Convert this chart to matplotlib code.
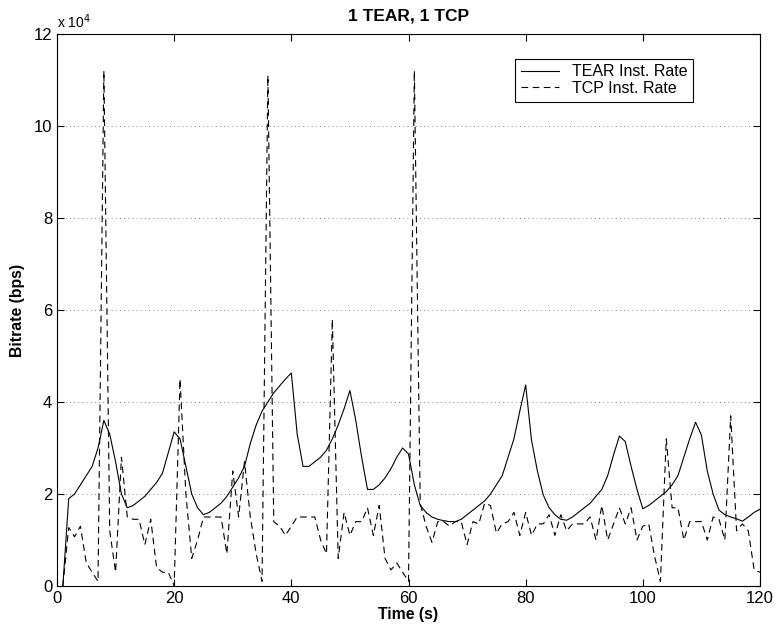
import numpy as np
import matplotlib.pyplot as plt
from matplotlib.ticker import FuncFormatter

plt.rcParams['font.family'] = ['Liberation Sans', 'DejaVu Sans']

# time axis (s)
time_s = list(range(1, 121))

# TEAR instantaneous rate (x 10^4 bps)
tear_rate = [
    0.0, 1.9, 2.0, 2.2, 2.4, 2.6, 3.0, 3.6, 3.3, 2.7,
    2.0, 1.7, 1.75, 1.85, 1.95, 2.1, 2.25, 2.45, 2.9, 3.35,
    3.2, 2.6, 2.0, 1.7, 1.55, 1.6, 1.7, 1.8, 1.95, 2.15,
    2.35, 2.6, 3.1, 3.5, 3.8, 4.0, 4.2, 4.35, 4.5, 4.63,
    3.3, 2.6, 2.6, 2.7, 2.8, 2.95, 3.2, 3.5, 3.85, 4.25,
    3.6, 2.8, 2.1, 2.1, 2.2, 2.35, 2.55, 2.8, 3.0, 2.87,
    2.2, 1.75, 1.6, 1.5, 1.45, 1.42, 1.4, 1.4, 1.45, 1.55,
    1.65, 1.75, 1.85, 2.0, 2.2, 2.4, 2.8, 3.2, 3.8, 4.37,
    3.17, 2.5, 1.98, 1.7, 1.55, 1.45, 1.43, 1.5, 1.6, 1.7,
    1.8, 1.95, 2.1, 2.4, 2.85, 3.26, 3.14, 2.6, 2.1, 1.68,
    1.75, 1.85, 1.95, 2.05, 2.2, 2.4, 2.8, 3.2, 3.56, 3.28,
    2.5, 2.0, 1.65, 1.55, 1.5, 1.46, 1.41, 1.5, 1.6, 1.67,
]

# TCP instantaneous rate (x 10^4 bps)
tcp_rate = [
    0.0, 1.27, 1.07, 1.3, 0.5, 0.3, 0.1, 11.2, 1.2, 0.3,
    2.8, 1.5, 1.45, 1.45, 0.9, 1.45, 0.4, 0.3, 0.3, 0.0,
    4.5, 2.0, 0.6, 1.0, 1.5, 1.5, 1.5, 1.5, 0.7, 2.5,
    1.5, 2.7, 1.5, 0.7, 0.1, 11.1, 1.4, 1.3, 1.1, 1.3,
    1.5, 1.5, 1.5, 1.5, 1.0, 0.7, 5.8, 0.6, 1.6, 1.1,
    1.4, 1.4, 1.7, 1.1, 1.75, 0.6, 0.35, 0.5, 0.3, 0.1,
    11.2, 1.8, 1.3, 0.95, 1.4, 1.4, 1.3, 1.4, 1.4, 0.9,
    1.4, 1.35, 1.8, 1.75, 1.15, 1.35, 1.4, 1.6, 1.1, 1.6,
    1.1, 1.35, 1.35, 1.55, 1.1, 1.55, 1.2, 1.35, 1.35, 1.35,
    1.5, 1.0, 1.75, 1.0, 1.35, 1.7, 1.35, 1.7, 1.0, 1.3,
    1.35, 0.65, 0.1, 3.2, 1.7, 1.7, 1.0, 1.4, 1.4, 1.4,
    1.0, 1.5, 1.45, 1.0, 3.7, 1.2, 1.35, 1.2, 0.35, 0.3,
]

scale = 1e4
tear_bps = np.array(tear_rate) * scale
tcp_bps = np.array(tcp_rate) * scale

fig = plt.figure(figsize=(7.77, 6.32), dpi=100)
ax = fig.add_axes([57 / 777, 46 / 632, 703 / 777, 552 / 632])

ax.plot(time_s, tear_bps, color='black', linewidth=0.8, label='TEAR Inst. Rate')
ax.plot(time_s, tcp_bps, color='black', linewidth=0.8, linestyle=(0, (6, 4)),
        label='TCP Inst. Rate')

ax.set_xlim(0, 120)
ax.set_ylim(0, 12e4)
ax.set_xticks(range(0, 121, 20))
ax.set_yticks(np.arange(0, 13, 2) * scale)
ax.yaxis.set_major_formatter(FuncFormatter(lambda v, p: '%g' % (v / scale)))
ax.grid(axis='y', linestyle=(0, (1, 4)), color='black', linewidth=0.6, alpha=0.6)
ax.tick_params(direction='in', top=True, right=True, labelsize=12, length=5, width=0.8)
for s in ax.spines.values():
    s.set_linewidth(0.8)

ax.text(0.0, 1.005, r'x 10$^{4}$', transform=ax.transAxes, fontsize=10,
        ha='left', va='bottom')
ax.set_title('1 TEAR, 1 TCP', fontsize=12.5, fontweight='bold', pad=10)
ax.set_xlabel('Time (s)', fontsize=11.3, fontweight='bold', labelpad=1)
ax.set_ylabel('Bitrate (bps)', fontsize=11.3, fontweight='bold', labelpad=6)

leg = ax.legend(loc='upper right', bbox_to_anchor=(0.905, 0.955), fontsize=11.5,
                fancybox=False, framealpha=1, edgecolor='black', handlelength=2.4,
                borderpad=0.35, labelspacing=0.1, borderaxespad=0)
leg.get_frame().set_linewidth(0.8)

fig.savefig('out.png', dpi=100)
